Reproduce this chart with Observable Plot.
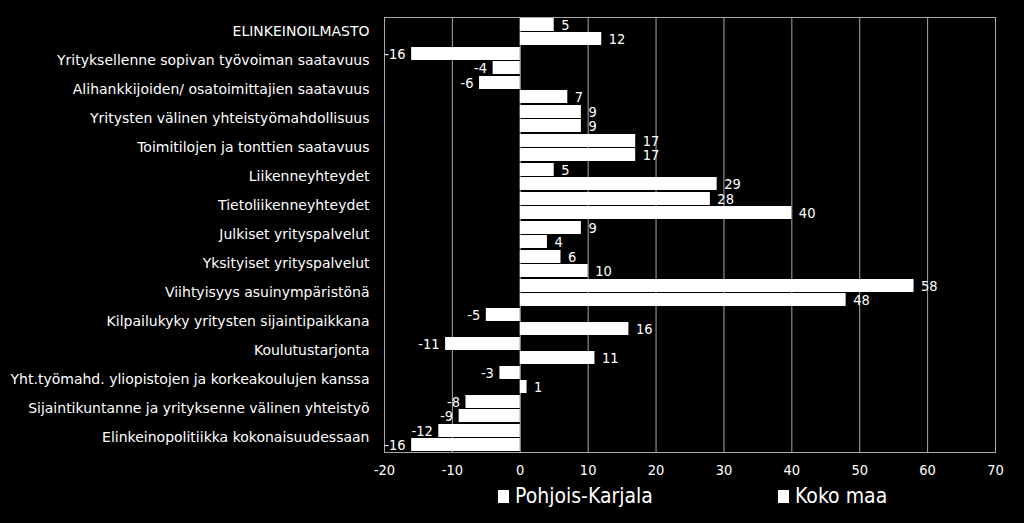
<!DOCTYPE html>
<html><head><meta charset="utf-8">
<script src="https://cdn.jsdelivr.net/npm/d3@7"></script>
<script src="https://cdn.jsdelivr.net/npm/@observablehq/plot@0.6"></script>
<style>
html,body{margin:0;padding:0;background:#000;}
body{width:1024px;height:523px;overflow:hidden;position:relative;font-family:"DejaVu Sans Condensed","DejaVu Sans",sans-serif;color:#fff;}
#chart svg{display:block;}
.leg{position:absolute;top:484px;font-size:21px;display:flex;align-items:center;white-space:nowrap;}
.leg .sw{width:11px;height:13px;background:#fff;margin-right:6px;}
</style></head><body>
<div id="chart"></div>
<div id="legend"></div>
<script>
const categories = [
  "ELINKEINOILMASTO",
  "Yrityksellenne sopivan työvoiman saatavuus",
  "Alihankkijoiden/ osatoimittajien saatavuus",
  "Yritysten välinen yhteistyömahdollisuus",
  "Toimitilojen ja tonttien saatavuus",
  "Liikenneyhteydet",
  "Tietoliikenneyhteydet",
  "Julkiset yrityspalvelut",
  "Yksityiset yrityspalvelut",
  "Viihtyisyys asuinympäristönä",
  "Kilpailukyky yritysten sijaintipaikkana",
  "Koulutustarjonta",
  "Yht.työmahd. yliopistojen ja korkeakoulujen kanssa",
  "Sijaintikuntanne ja yrityksenne välinen yhteistyö",
  "Elinkeinopolitiikka kokonaisuudessaan"
];
const pohjoisKarjala = [5, -16, -6, 9, 17, 5, 28, 9, 6, 58, -5, -11, -3, -8, -12];
const kokoMaa = [12, -4, 7, 9, 17, 29, 40, 4, 10, 48, 16, 11, 1, -9, -16];
const seriesNames = ["Pohjois-Karjala", "Koko maa"];
const xTicks = [-20, -10, 0, 10, 20, 30, 40, 50, 60, 70];

const pk = categories.map((c, i) => ({category: c, series: seriesNames[0], value: pohjoisKarjala[i]}));
const km = categories.map((c, i) => ({category: c, series: seriesNames[1], value: kokoMaa[i]}));

const lineColor = "#a8a8a8";
const txt = (data, dyv) => [
  Plot.text(data.filter(d => d.value >= 0), {x: "value", y: "category", text: d => String(d.value), dy: dyv, dx: 7, textAnchor: "start", fill: "white", fontSize: 14.5}),
  Plot.text(data.filter(d => d.value < 0), {x: "value", y: "category", text: d => String(d.value), dy: dyv, dx: -6, textAnchor: "end", fill: "white", fontSize: 14.5})
];

const chart = Plot.plot({
  width: 1024,
  height: 480,
  marginLeft: 384,
  marginRight: 29,
  marginTop: 17,
  marginBottom: 28,
  style: {background: "black", color: "white", fontFamily: "'DejaVu Sans Condensed','DejaVu Sans',sans-serif", fontSize: "14px"},
  x: {domain: [-20, 70], ticks: xTicks},
  y: {domain: categories, padding: 0},
  marks: [
    Plot.gridX(xTicks, {stroke: lineColor, strokeOpacity: 1}),
    Plot.frame({stroke: lineColor}),
    Plot.barX(pk, {x: "value", y: "category", fill: "white", insetTop: 1, insetBottom: 15}),
    Plot.barX(km, {x: "value", y: "category", fill: "white", insetTop: 15, insetBottom: 1}),
    ...txt(pk, -7),
    ...txt(km, 7),
    Plot.axisX(xTicks, {tickSize: 0, tickPadding: 12, fontSize: 14.5, fill: "white", label: null, tickFormat: d => String(d)}),
    Plot.axisY({tickSize: 0, tickPadding: 15, fontSize: 14, fill: "white", label: null, fontFamily: "'DejaVu Sans',sans-serif"})
  ]
});
document.getElementById("chart").appendChild(chart);

const legend = document.getElementById("legend");
const legendX = [498, 778];
seriesNames.forEach((name, i) => {
  const item = document.createElement("div");
  item.className = "leg";
  item.style.left = legendX[i] + "px";
  item.innerHTML = `<span class="sw"></span><span>${name}</span>`;
  legend.appendChild(item);
});
</script>
</body></html>
